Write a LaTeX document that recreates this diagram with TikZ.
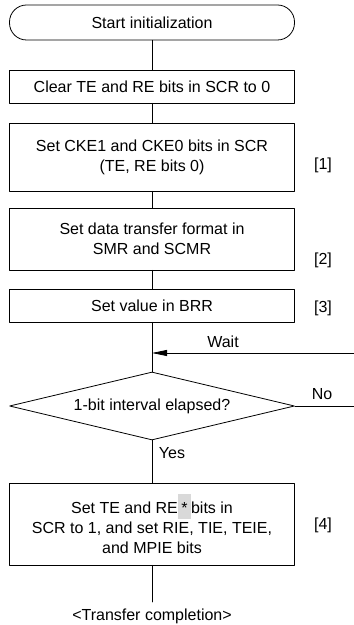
\documentclass[tikz,border=0pt]{standalone}
\usepackage{fontspec}
\setmainfont{Liberation Sans}
\usetikzlibrary{shapes.geometric,arrows.meta}
\begin{document}
\begin{tikzpicture}[x=1pt,y=1pt,line width=0.8pt,line join=round,line cap=round,
    font=\fontsize{16}{20}\selectfont,
    stepbox/.style={draw,rectangle,minimum width=285pt,align=center,inner sep=0pt},
    termbox/.style={draw,rectangle,rounded corners=17pt,minimum width=285pt,minimum height=35pt},
    testbox/.style={draw,diamond,aspect=4.2,minimum width=285pt,minimum height=68pt,inner sep=0pt}]
    \useasboundingbox (0,0) rectangle (354,625);
    \node[termbox] (start) at (152,602.5) {Start initialization};
    \node[stepbox,minimum height=33pt] (clear) at (152,538.5) {Clear TE and RE bits in SCR to 0};
    \node[stepbox,minimum height=68pt] (cke) at (152,468) {Set CKE1 and CKE0 bits in SCR\\(TE, RE bits 0)};
    \node[stepbox,minimum height=62pt] (format) at (152,386) {Set data transfer format in\\SMR and SCMR};
    \node[stepbox,minimum height=33pt] (brr) at (152,319.5) {Set value in BRR};
    \node[testbox] (test) at (152,219) {1-bit interval elapsed?};
    \node[stepbox,minimum height=82pt] (enable) at (152,101)
        {Set TE and RE{\setlength{\fboxsep}{0pt}\colorbox{gray!30}{\rule[-6pt]{0pt}{25pt}\kern3.5pt*\kern3.5pt}}bits in\\SCR to 1, and set RIE, TIE, TEIE,\\and MPIE bits};
    \node (done) at (152,9) {<Transfer completion>};
    \coordinate (doneend) at (152,23);
    \coordinate (waitin) at (354,272);
    \coordinate (waitat) at (152,272);
    \coordinate (noout) at (354,219);
    % flow
    \foreach \a/\b in {start/clear,clear/cke,cke/format,format/brr,brr/test,test/enable,enable/doneend}
        \draw (\a) -- (\b);
    \draw[-{Triangle[length=15pt,width=6pt]}] (waitin) -- (waitat);
    \draw (test.east) -- (noout);
    \node (waitlabel) at (223,283) {Wait};
    \node (nolabel) at (322,231) {No};
    \node (yeslabel) at (172,172) {Yes};
    \foreach \n/\y in {1/460,2/365,3/317,4/100}
        \node (tag\n) at (323,\y) {[\n]};
\end{tikzpicture}
\end{document}
